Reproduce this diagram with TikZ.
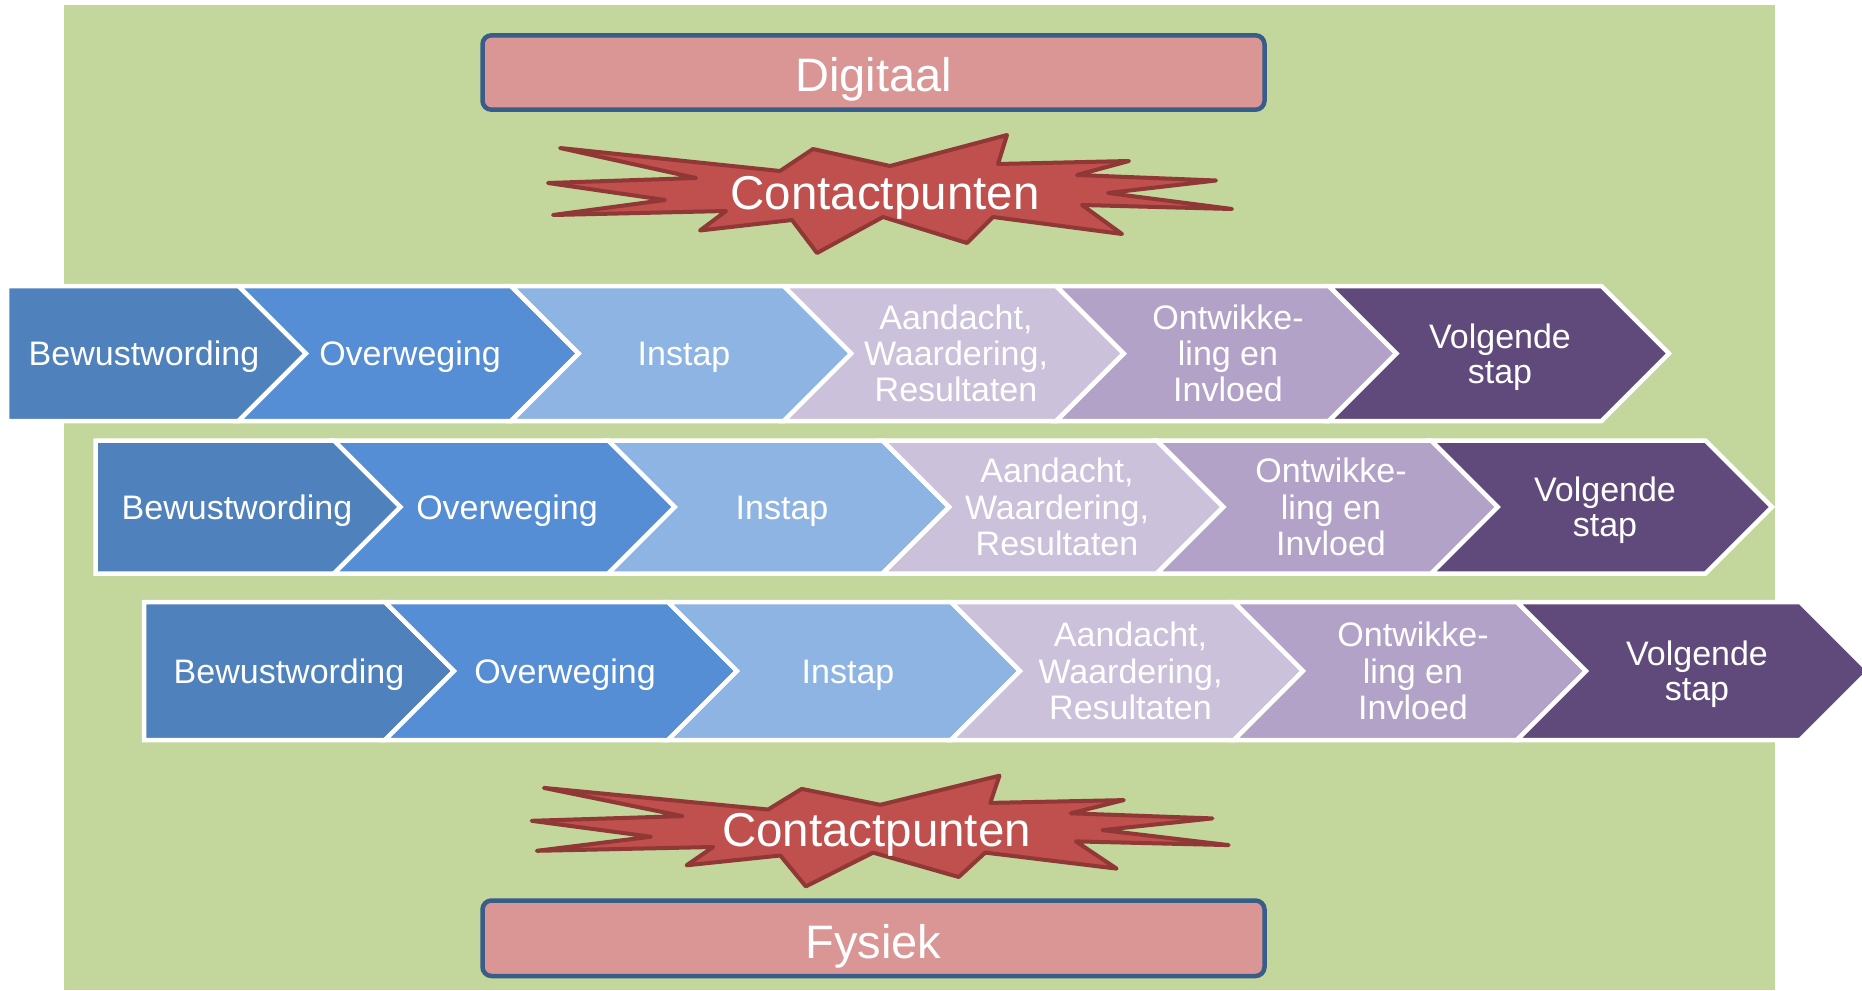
\documentclass[tikz,border=0pt]{standalone}
\usepackage{fontspec}
\setmainfont{Liberation Sans}
\definecolor{bggreen}{HTML}{C3D69B}
\definecolor{cA}{HTML}{4F81BD}
\definecolor{cB}{HTML}{558ED5}
\definecolor{cC}{HTML}{8EB4E3}
\definecolor{cD}{HTML}{CCC1DA}
\definecolor{cE}{HTML}{B3A2C7}
\definecolor{cF}{HTML}{604A7B}
\definecolor{boxfill}{HTML}{D99694}
\definecolor{boxline}{HTML}{385D8A}
\definecolor{starfill}{HTML}{C0504D}
\definecolor{starline}{HTML}{8F3836}
\tikzset{
  chevshape/.style={draw=white, line width=4.5pt, line join=miter},
  chevtext/.style={text=white, font=\fontsize{34}{35}\selectfont, align=center, inner sep=0pt},
  catbox/.style={draw=boxline, fill=boxfill, line width=4.5pt, rounded corners=9pt, text=white,
    font=\fontsize{47}{56}\selectfont, inner sep=0pt, minimum width=782pt, text depth=0pt},
  burst/.style={fill=starfill, draw=starline, line width=4pt, line join=round},
  bursttext/.style={text=white, font=\fontsize{47.5}{57}\selectfont, inner sep=0pt, anchor=base}
}
% #1 L, #2 Y1, #3 Y2, #4 T, #5 colour
\newcommand{\firstchev}[5]{%
  \path[chevshape, fill=#5] (#1,#2) -- ({#4-(#3-#2)/2},#2) -- (#4,{(#2+#3)/2})
    -- ({#4-(#3-#2)/2},#3) -- (#1,#3) -- cycle;}
% #1 Tprev, #2 Y1, #3 Y2, #4 T, #5 colour
\newcommand{\nextchev}[5]{%
  \path[chevshape, fill=#5] ({#1-(#3-#2)/2},#2) -- ({#4-(#3-#2)/2},#2) -- (#4,{(#2+#3)/2})
    -- ({#4-(#3-#2)/2},#3) -- ({#1-(#3-#2)/2},#3) -- (#1,{(#2+#3)/2}) -- cycle;}
\begin{document}
\begin{tikzpicture}[x=1pt, y=-1pt]
\useasboundingbox (0,0) rectangle (1862,990);
\fill[white] (0,0) rectangle (1862,990);
\fill[bggreen] (64,5) rectangle (1775,990);

% category boxes
\node[catbox, minimum height=74.4pt, text height=38.4pt] (digitaal) at (873.5,72.5) {Digitaal};
\node[catbox, minimum height=75.5pt, text height=40pt] (fysiek) at (873.5,938.25) {Fysiek};

% top burst
\path[burst] (560,148) -- (780,171) -- (813,149) -- (890,166) -- (1007,135) -- (998,164)
  -- (1129,161) -- (1077,175) -- (1216,180.5) -- (1108,193) -- (1232,209) -- (1082,205)
  -- (1122,234) -- (993,217) -- (967,243) -- (883,217) -- (817,253) -- (792,220)
  -- (700,230.5) -- (726,211) -- (553,215) -- (665,200) -- (548,183) -- (696,178) -- cycle;
\node[bursttext] (cptop) at (885,209) {Contactpunten};

% bottom burst
\path[burst] (543.9,787.9) -- (768.1,809.5) -- (801.7,788.9) -- (880.2,804.8) -- (999.4,775.7)
  -- (990.3,802.9) -- (1123.8,800.1) -- (1070.8,813.3) -- (1212.4,818.4) -- (1102.4,830.1)
  -- (1228.7,845.1) -- (1075.9,841.4) -- (1116.6,868.6) -- (985.2,852.6) -- (958.7,877)
  -- (873.1,852.6) -- (805.8,886.4) -- (780.3,855.5) -- (686.6,865.3) -- (713.1,847)
  -- (536.8,850.8) -- (650.9,836.7) -- (531.7,820.8) -- (682.5,816.1) -- cycle;
\node[bursttext] (cpbottom) at (876.5,846) {Contactpunten};

% row 1
\firstchev{7}{286}{421}{306}{cA}
\nextchev{306}{286}{421}{578.6}{cB}
\nextchev{578.6}{286}{421}{851.2}{cC}
\nextchev{851.2}{286}{421}{1123.8}{cD}
\nextchev{1123.8}{286}{421}{1396.4}{cE}
\nextchev{1396.4}{286}{421}{1669}{cF}
\node[chevtext] (a1) at (144,358.5) {\strut Bewustwording};
\node[chevtext] (a2) at (410,358.5) {\strut Overweging};
\node[chevtext] (a3) at (684,358.5) {\strut Instap};
\node[chevtext] (a4) at (956,358.5) {\strut Aandacht,\\\strut Waardering,\\\strut Resultaten};
\node[chevtext] (a5) at (1228,358.5) {\strut Ontwikke-\\\strut ling en\\\strut Invloed};
\node[chevtext] (a6) at (1500,358.5) {\strut Volgende\\\strut stap};

% row 2
\firstchev{95.5}{440.5}{573.5}{400.5}{cA}
\nextchev{400.5}{440.5}{573.5}{674.8}{cB}
\nextchev{674.8}{440.5}{573.5}{949.1}{cC}
\nextchev{949.1}{440.5}{573.5}{1223.4}{cD}
\nextchev{1223.4}{440.5}{573.5}{1497.7}{cE}
\nextchev{1497.7}{440.5}{573.5}{1772}{cF}
\node[chevtext] (b1) at (237,512) {\strut Bewustwording};
\node[chevtext] (b2) at (507,512) {\strut Overweging};
\node[chevtext] (b3) at (782,512) {\strut Instap};
\node[chevtext] (b4) at (1057,512) {\strut Aandacht,\\\strut Waardering,\\\strut Resultaten};
\node[chevtext] (b5) at (1331,512) {\strut Ontwikke-\\\strut ling en\\\strut Invloed};
\node[chevtext] (b6) at (1605,512) {\strut Volgende\\\strut stap};

% row 3
\firstchev{144}{602}{740}{454}{cA}
\nextchev{454}{602}{740}{737}{cB}
\nextchev{737}{602}{740}{1020}{cC}
\nextchev{1020}{602}{740}{1303}{cD}
\nextchev{1303}{602}{740}{1586}{cE}
\nextchev{1586}{602}{740}{1869}{cF}
\node[chevtext] (c1) at (289,676) {\strut Bewustwording};
\node[chevtext] (c2) at (565,676) {\strut Overweging};
\node[chevtext] (c3) at (848,676) {\strut Instap};
\node[chevtext] (c4) at (1130.5,676) {\strut Aandacht,\\\strut Waardering,\\\strut Resultaten};
\node[chevtext] (c5) at (1413,676) {\strut Ontwikke-\\\strut ling en\\\strut Invloed};
\node[chevtext] (c6) at (1697,676) {\strut Volgende\\\strut stap};
\end{tikzpicture}
\end{document}
